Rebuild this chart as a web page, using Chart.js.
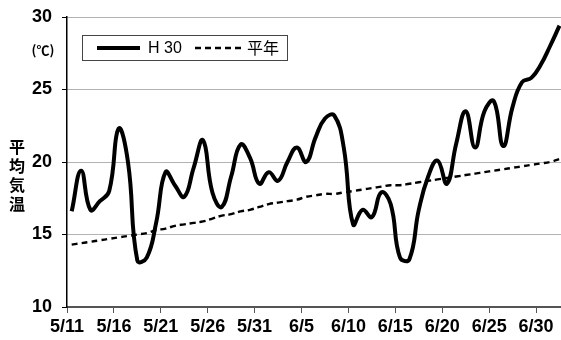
<!DOCTYPE html>
<html>
<head>
<meta charset="utf-8">
<script src="https://cdn.jsdelivr.net/npm/chart.js@4"></script>
<style>
  body { margin: 0; background: #fff; }
  #wrap { width: 561px; height: 340px; }
</style>
</head>
<body>
<div id="wrap"><canvas id="chart"></canvas></div>
<script>
// 5/11 - 7/2
const dates = [
  '5/11','5/12','5/13','5/14','5/15','5/16','5/17','5/18','5/19','5/20',
  '5/21','5/22','5/23','5/24','5/25','5/26','5/27','5/28','5/29','5/30','5/31',
  '6/1','6/2','6/3','6/4','6/5','6/6','6/7','6/8','6/9','6/10',
  '6/11','6/12','6/13','6/14','6/15','6/16','6/17','6/18','6/19','6/20',
  '6/21','6/22','6/23','6/24','6/25','6/26','6/27','6/28','6/29','6/30',
  '7/1','7/2'
];

const h30 = [
  16.6, 19.4, 16.7, 17.3, 18.0, 22.3, 20.0, 13.2, 13.4, 15.8,
  19.3, 18.4, 17.6, 19.6, 21.5, 17.9, 16.9, 19.0, 21.2, 20.3, 18.5,
  19.3, 18.7, 20.0, 21.0, 20.0, 21.7, 23.0, 23.2, 21.0, 15.7,
  16.7, 16.2, 17.9, 17.1, 13.4, 13.3, 16.7, 19.0, 20.1, 18.5,
  21.3, 23.5, 21.0, 23.5, 24.2, 21.1, 23.8, 25.5, 25.8, 26.7,
  28.0, 29.4
];

const heinen = [
  14.3, 14.4, 14.5, 14.6, 14.7, 14.8, 14.9, 15.0, 15.1, 15.3,
  15.4, 15.6, 15.7, 15.8, 15.9, 16.1, 16.3, 16.4, 16.6, 16.7, 16.9,
  17.1, 17.2, 17.3, 17.4, 17.6, 17.7, 17.8, 17.8, 17.9, 18.0,
  18.1, 18.2, 18.3, 18.4, 18.4, 18.5, 18.6, 18.7, 18.8, 18.9,
  19.0, 19.1, 19.2, 19.3, 19.4, 19.5, 19.6, 19.7, 19.8, 19.9,
  20.0, 20.2
];

const yTicks = [10, 15, 20, 25, 30];
const tickEvery = 5;

const toPoints = (arr) => arr.map((v, i) => ({ x: i, y: v }));

// y軸タイトルと単位、凡例
const decorations = {
  id: 'decorations',
  afterDraw(chart) {
    const ctx = chart.ctx;
    const area = chart.chartArea;
    ctx.save();
    ctx.fillStyle = '#000';
    ctx.textAlign = 'center';
    ctx.textBaseline = 'middle';
    ctx.font = 'bold 16px "Noto Sans CJK JP"';
    const title = '平均気温';
    for (let k = 0; k < title.length; k++) {
      ctx.fillText(title[k], 17, 147 + k * 19);
    }
    ctx.font = 'bold 13px "Noto Sans CJK JP"';
    ctx.fillText('(℃)', 43, 50);

    // legend box
    const bx = area.left + 15, by = area.top + 18, bw = 205, bh = 25;
    ctx.fillStyle = '#fff';
    ctx.fillRect(bx, by, bw, bh);
    ctx.strokeStyle = '#444';
    ctx.lineWidth = 1;
    ctx.strokeRect(bx + 0.5, by + 0.5, bw, bh);
    const midY = by + bh / 2 + 0.5;
    const ds = chart.data.datasets;
    ctx.strokeStyle = '#000';
    ctx.lineWidth = 4;
    ctx.beginPath();
    ctx.moveTo(bx + 15, midY);
    ctx.lineTo(bx + 58, midY);
    ctx.stroke();
    ctx.lineWidth = 2.4;
    ctx.setLineDash([6, 4]);
    ctx.beginPath();
    ctx.moveTo(bx + 113, midY);
    ctx.lineTo(bx + 162, midY);
    ctx.stroke();
    ctx.setLineDash([]);
    ctx.fillStyle = '#000';
    ctx.textAlign = 'left';
    ctx.font = '16px "Liberation Sans"';
    ctx.fillText(ds[0].label, bx + 66, midY + 1);
    ctx.font = '16px "Noto Sans CJK JP"';
    ctx.fillText(ds[1].label, bx + 165, midY);
    ctx.restore();
  }
};

new Chart(document.getElementById('chart'), {
  type: 'line',
  data: {
    datasets: [
      {
        label: 'H 30',
        data: toPoints(h30),
        borderColor: '#000',
        borderWidth: 4,
        pointRadius: 0,
        tension: 0.45,
        fill: false,
      },
      {
        label: '平年',
        data: toPoints(heinen),
        borderColor: '#000',
        borderWidth: 2.4,
        borderDash: [6, 4],
        pointRadius: 0,
        tension: 0.4,
        fill: false,
      },
    ],
  },
  options: {
    responsive: true,
    maintainAspectRatio: false,
    animation: false,
    layout: { padding: { top: 17, right: 0, left: 0, bottom: 0 } },
    plugins: {
      legend: { display: false },
      tooltip: { enabled: false },
    },
    scales: {
      x: {
        type: 'linear',
        min: -0.5,
        max: 52.16,
        afterBuildTicks(scale) {
          const t = [];
          for (let i = 0; i < dates.length; i += tickEvery) {
            if (i - 0.5 <= scale.max) t.push({ value: i - 0.5 });
          }
          scale.ticks = t;
        },
        afterFit(scale) {
          scale.height = 33;
          scale.paddingLeft = 0;
          scale.paddingRight = 0;
        },
        ticks: {
          autoSkip: false,
          maxRotation: 0,
          padding: 3,
          color: '#000',
          font: { family: '"Liberation Sans"', size: 18, weight: 'bold' },
          callback: (v) => dates[Math.round(v + 0.5)],
        },
        grid: {
          drawOnChartArea: false,
          drawTicks: true,
          tickLength: 6,
          tickColor: '#555',
        },
        border: { color: '#555', width: 2 },
      },
      y: {
        min: 10,
        max: 30,
        afterBuildTicks(scale) {
          scale.ticks = yTicks.map((v) => ({ value: v }));
        },
        afterFit(scale) {
          scale.width = 67;
          scale.paddingTop = 0;
          scale.paddingBottom = 0;
        },
        ticks: {
          padding: 10,
          color: '#000',
          font: { family: '"Liberation Sans"', size: 18, weight: 'bold' },
        },
        grid: {
          color: '#666',
          lineWidth: 1,
          tickColor: '#000',
          tickLength: 5,
        },
        border: { color: '#000', width: 1.5, dash: [1, 1] },
      },
    },
  },
  plugins: [decorations],
});
</script>
</body>
</html>
